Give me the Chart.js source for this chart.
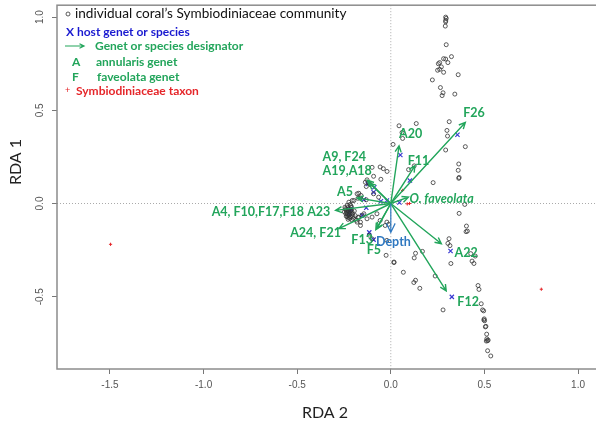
<!DOCTYPE html>
<html lang="en">
<head>
<meta charset="UTF-8">
<title>RDA biplot</title>
<script src="https://cdn.jsdelivr.net/npm/chart.js"></script>
<style>
  * { margin: 0; padding: 0; box-sizing: border-box; }
  body { background: #fff; width: 596px; height: 435px; overflow: hidden; }
  .wrap { width: 604px; height: 435px; }
</style>
</head>
<body>
<div class="wrap"><canvas id="rda" width="604" height="435"></canvas></div>
<script>
// axis ticks
const xTicks = [-1.5, -1.0, -0.5, 0.0, 0.5, 1.0];
const yTicks = [-0.5, 0.0, 0.5, 1.0];

// individual coral's Symbiodiniaceae community (RDA 2, RDA 1)
const communityPoints = [
  [0.293, 1.0], [0.296, 0.993], [0.293, 0.982], [0.293, 0.975], [0.291, 0.952], [0.296, 0.852],
  [0.282, 0.777], [0.293, 0.775], [0.305, 0.756], [0.324, 0.788], [0.261, 0.756], [0.254, 0.750],
  [0.270, 0.733], [0.261, 0.720], [0.250, 0.715], [0.282, 0.704], [0.360, 0.691], [0.222, 0.663],
  [0.265, 0.622], [0.279, 0.594], [0.274, 0.579], [0.342, 0.587],
  [0.044, 0.417], [0.136, 0.429], [0.312, 0.439], [0.300, 0.392], [0.303, 0.362], [0.060, 0.381],
  [0.063, 0.349], [0.012, 0.317], [0.398, 0.305], [0.293, 0.287], [0.095, 0.182], [0.125, 0.202],
  [0.363, 0.212], [0.360, 0.178], [0.363, 0.135], [0.365, 0.140], [0.226, 0.112], [0.395, -0.005],
  [-0.100, 0.194], [-0.057, 0.196], [-0.040, 0.187], [-0.020, 0.172], [-0.053, 0.130],
  [-0.092, 0.146], [-0.136, 0.114], [-0.127, 0.127], [-0.118, 0.111], [-0.110, 0.103], [-0.131, 0.091],
  [-0.180, 0.052], [-0.162, 0.030], [-0.197, 0.016], [-0.092, 0.052], [-0.065, 0.034],
  [-0.171, 0.055], [-0.159, 0.043], [-0.175, 0.028], [-0.131, 0.020], [-0.224, 0.007], [-0.206, 0.016],
  [-0.245, -0.020], [-0.240, -0.035], [-0.235, -0.050], [-0.230, -0.060], [-0.225, -0.030], [-0.220, -0.045],
  [-0.215, -0.070], [-0.210, -0.020], [-0.205, -0.055], [-0.200, -0.080], [-0.232, -0.010], [-0.218, -0.005],
  [-0.225, -0.075], [-0.238, -0.068], [-0.190, -0.065], [-0.185, -0.090], [-0.195, -0.040], [-0.208, -0.088],
  [-0.248, -0.045], [-0.212, -0.038], [-0.228, -0.085], [-0.175, -0.075],
  [-0.242, -0.028], [-0.236, -0.042], [-0.229, -0.022], [-0.223, -0.062], [-0.217, -0.052], [-0.213, -0.012],
  [-0.207, -0.045], [-0.202, -0.068], [-0.233, -0.072], [-0.219, -0.080], [-0.240, -0.055], [-0.227, -0.040],
  [-0.144, -0.055], [-0.127, -0.082], [-0.162, -0.100], [-0.100, -0.073], [-0.074, -0.055], [-0.057, -0.091],
  [-0.021, -0.100], [-0.012, -0.112], [-0.030, -0.118], [-0.153, -0.064], [-0.171, -0.073], [-0.180, -0.100],
  [-0.162, -0.118], [-0.115, -0.170], [-0.100, -0.190], [-0.021, -0.198], [-0.025, -0.278],
  [0.365, -0.053], [0.404, -0.121], [0.409, -0.148], [0.402, -0.151], [0.311, -0.189], [0.305, -0.214],
  [0.316, -0.226], [0.321, -0.322], [0.427, -0.269], [0.451, -0.282], [0.434, -0.309], [0.444, -0.322],
  [0.132, -0.267], [0.125, -0.292], [0.169, -0.257], [0.017, -0.317], [0.017, -0.314], [0.067, -0.369],
  [0.237, -0.389], [0.132, -0.412], [0.123, -0.424], [0.155, -0.455], [0.466, -0.440], [0.471, -0.461],
  [0.279, -0.571], [0.483, -0.538], [0.490, -0.571], [0.496, -0.576], [0.499, -0.619], [0.501, -0.629],
  [0.497, -0.625], [0.508, -0.659], [0.505, -0.662], [0.512, -0.701], [0.513, -0.726], [0.517, -0.736],
  [0.510, -0.738], [0.520, -0.733], [0.517, -0.790], [0.534, -0.818]
];

// host genet or species
const hostPoints = [
  [0.356, 0.369], [0.051, 0.260], [0.102, 0.123], [0.319, -0.255], [0.326, -0.501],
  [-0.088, 0.087], [-0.123, 0.105], [-0.092, 0.060], [-0.144, 0.021], [-0.053, 0.012],
  [-0.021, 0.016], [-0.131, -0.023], [-0.153, -0.064], [-0.115, -0.155], [-0.092, -0.194],
  [0.046, 0.005], [-0.22, -0.04], [-0.225, -0.055], [-0.215, -0.03]
];

// Symbiodiniaceae taxa
const taxonPoints = [[-1.497, -0.219], [0.804, -0.460], [0.063, 0.070], [0.088, -0.002], [0.100, 0.000]];

// genet / species vectors
const vectorNames = ['F26', 'A20', 'F11', 'O. faveolata', 'A9, F24', 'A19,A18', 'A5',
  'A4, F10,F17,F18 A23', 'A24, F21', 'F13', 'F5', 'A22', 'F12'];
const vectorX = [0.398, 0.044, 0.129, 0.094, -0.125, -0.115, -0.180, -0.295, -0.277, -0.074, -0.080, 0.270, 0.296];
const vectorY = [0.435, 0.310, 0.203, 0.034, 0.125, 0.110, 0.030, -0.037, -0.135, -0.135, -0.140, -0.216, -0.469];
const labelX = [0.444, 0.106, 0.148, 0.100, -0.249, -0.233, -0.245, -0.323, -0.402, -0.153, -0.090, 0.402, 0.413];
const labelY = [0.487, 0.374, 0.230, 0.027, 0.251, 0.176, 0.064, -0.048, -0.160, -0.198, -0.251, -0.267, -0.529];
const labelAlign = ['center', 'center', 'center', 'left', 'center', 'center', 'center', 'right', 'center', 'center', 'center', 'center', 'center'];

// environmental vector
const depthVector = [0.0, -0.155];
const depthLabel = [0.014, -0.207];

const GREEN = '#22a55b';
const BLUE = '#3a3ad2';
const DEPTH_BLUE = '#2f78c0';
const RED = '#e5262a';
const LABEL_FONT = 'bold 12.5px Lato, "Open Sans", sans-serif';

const toXY = pts => pts.map(p => ({ x: p[0], y: p[1] }));

function arrow(ctx, x0, y0, x1, y1, head, color, width) {
  const ang = Math.atan2(y1 - y0, x1 - x0);
  ctx.save();
  ctx.strokeStyle = color;
  ctx.lineWidth = width;
  ctx.beginPath();
  ctx.moveTo(x0, y0);
  ctx.lineTo(x1, y1);
  ctx.moveTo(x1 - head * Math.cos(ang - 0.45), y1 - head * Math.sin(ang - 0.45));
  ctx.lineTo(x1, y1);
  ctx.lineTo(x1 - head * Math.cos(ang + 0.45), y1 - head * Math.sin(ang + 0.45));
  ctx.stroke();
  ctx.restore();
}

const overlay = {
  id: 'overlay',
  beforeDatasetsDraw(chart) {
    const { ctx, chartArea: a, scales: { x, y } } = chart;
    ctx.save();
    ctx.strokeStyle = '#aaa';
    ctx.lineWidth = 1;
    ctx.setLineDash([1, 2]);
    ctx.beginPath();
    ctx.moveTo(x.getPixelForValue(0), a.top);
    ctx.lineTo(x.getPixelForValue(0), a.bottom);
    ctx.moveTo(a.left, y.getPixelForValue(0));
    ctx.lineTo(a.right, y.getPixelForValue(0));
    ctx.stroke();
    ctx.restore();
  },
  afterDatasetsDraw(chart) {
    const { ctx, scales: { x, y } } = chart;
    const ox = x.getPixelForValue(0), oy = y.getPixelForValue(0);

    vectorNames.forEach((name, i) => {
      arrow(ctx, ox, oy, x.getPixelForValue(vectorX[i]), y.getPixelForValue(vectorY[i]), 7, GREEN, 1.4);
    });
    arrow(ctx, ox, oy, x.getPixelForValue(depthVector[0]), y.getPixelForValue(depthVector[1]), 10, DEPTH_BLUE, 1.2);

    ctx.save();
    ctx.textBaseline = 'middle';
    vectorNames.forEach((name, i) => {
      ctx.font = name.startsWith('O.') ? 'italic bold 12.5px Lato, "Open Sans", sans-serif' : LABEL_FONT;
      ctx.fillStyle = GREEN;
      ctx.textAlign = labelAlign[i];
      ctx.fillText(name, x.getPixelForValue(labelX[i]), y.getPixelForValue(labelY[i]));
    });
    ctx.font = LABEL_FONT;
    ctx.fillStyle = DEPTH_BLUE;
    ctx.textAlign = 'center';
    ctx.fillText('Depth', x.getPixelForValue(depthLabel[0]), y.getPixelForValue(depthLabel[1]));
    ctx.restore();
  },
  afterDraw(chart) {
    const { ctx, chartArea: a, scales: { y } } = chart;
    ctx.save();
    // plot box
    ctx.strokeStyle = '#8c8c8c';
    ctx.lineWidth = 1.5;
    ctx.strokeRect(a.left, a.top, a.right - a.left, a.bottom - a.top);

    // y tick labels, rotated as in R
    ctx.fillStyle = '#555';
    ctx.font = '10px "Liberation Sans", Arial, sans-serif';
    ctx.textAlign = 'center';
    ctx.textBaseline = 'middle';
    yTicks.forEach(v => {
      ctx.save();
      ctx.translate(a.left - 17, y.getPixelForValue(v));
      ctx.rotate(-Math.PI / 2);
      ctx.fillText(v.toFixed(1), 0, 0);
      ctx.restore();
    });

    // axis titles
    ctx.fillStyle = '#222';
    ctx.font = '16px Lato, "Open Sans", sans-serif';
    ctx.save();
    ctx.translate(16, 162);
    ctx.rotate(-Math.PI / 2);
    ctx.fillText('RDA 1', 0, 0);
    ctx.restore();
    ctx.fillText('RDA 2', 325, 413);

    // legend
    ctx.textAlign = 'left';
    ctx.strokeStyle = '#333';
    ctx.lineWidth = 0.8;
    ctx.beginPath();
    ctx.arc(68, 14, 2.0, 0, Math.PI * 2);
    ctx.stroke();
    ctx.fillStyle = '#111';
    ctx.font = '13.6px Lato, "Open Sans", sans-serif';
    ctx.fillText('individual coral\u2019s Symbiodiniaceae community', 75, 14);

    ctx.font = 'bold 12px Lato, "Open Sans", sans-serif';
    ctx.fillStyle = '#1a1ad0';
    ctx.fillText('X host genet or species', 66, 32);

    arrow(ctx, 65, 46, 84, 46, 5, GREEN, 1.2);
    ctx.fillStyle = GREEN;
    ctx.fillText('Genet or species designator', 95, 46);
    ctx.fillText('A', 72, 62);
    ctx.fillText('annularis genet', 96, 62);
    ctx.fillText('F', 72, 77);
    ctx.fillText('faveolata genet', 97, 77);

    ctx.fillStyle = RED;
    ctx.font = '9px "Liberation Sans", sans-serif';
    ctx.fillText('+', 65, 91);
    ctx.font = 'bold 12px Lato, "Open Sans", sans-serif';
    ctx.fillText('Symbiodiniaceae taxon', 76, 91);
    ctx.restore();
  }
};

new Chart(document.getElementById('rda').getContext('2d'), {
  type: 'scatter',
  data: {
    datasets: [
      {
        label: 'community',
        data: toXY(communityPoints),
        pointStyle: 'circle',
        pointRadius: 2.0,
        borderColor: '#333',
        backgroundColor: 'rgba(0,0,0,0)',
        borderWidth: 0.8
      },
      {
        label: 'host',
        data: toXY(hostPoints),
        pointStyle: 'crossRot',
        pointRadius: 3,
        borderColor: BLUE,
        borderWidth: 1.2
      },
      {
        label: 'taxon',
        data: toXY(taxonPoints),
        pointStyle: 'cross',
        pointRadius: 1.6,
        borderColor: RED,
        borderWidth: 1
      }
    ]
  },
  options: {
    responsive: false,
    animation: false,
    layout: { padding: { top: 4, right: 0, left: 0, bottom: 0 } },
    plugins: { legend: { display: false }, tooltip: { enabled: false } },
    scales: {
      x: {
        type: 'linear',
        min: -1.783,
        max: 1.111,
        afterBuildTicks: s => { s.ticks = xTicks.map(v => ({ value: v })); },
        afterFit: s => { s.height = 66; },
        grid: { drawOnChartArea: false, drawTicks: true, tickLength: 5, color: '#777' },
        border: { display: false },
        ticks: {
          color: '#555',
          padding: 5,
          font: { family: '"Liberation Sans", Arial, sans-serif', size: 10 },
          callback: v => v.toFixed(1)
        }
      },
      y: {
        type: 'linear',
        min: -0.888,
        max: 1.064,
        afterBuildTicks: s => { s.ticks = yTicks.map(v => ({ value: v })); },
        afterFit: s => { s.width = 57; },
        grid: { drawOnChartArea: false, drawTicks: true, tickLength: 5, color: '#777' },
        border: { display: false },
        ticks: { display: false }
      }
    }
  },
  plugins: [overlay]
});
</script>
</body>
</html>
